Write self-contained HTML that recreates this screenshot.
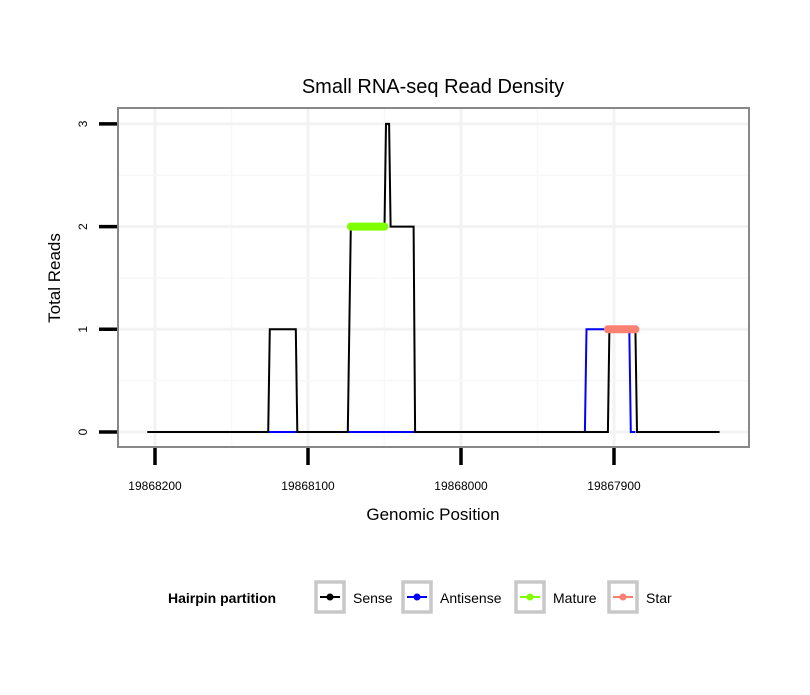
<!DOCTYPE html>
<html><head><meta charset="utf-8"><style>
body{margin:0;background:#fff;font-family:"Liberation Sans",sans-serif}
</style></head><body>
<svg id="c" width="810" height="690" xmlns="http://www.w3.org/2000/svg" font-family="Liberation Sans, sans-serif">
<rect width="810" height="690" fill="#fff"/>
<text x="433" y="93" font-size="20" text-anchor="middle">Small RNA-seq Read Density</text>
<g id="grid"></g>
<g id="series"></g>
<rect x="118" y="108" width="631" height="339" fill="none" stroke="#888" stroke-width="2"/>
<g id="axes"></g>
<text x="433" y="520" font-size="17" text-anchor="middle">Genomic Position</text>
<text transform="translate(60,278) rotate(-90)" font-size="17" text-anchor="middle">Total Reads</text>
<g id="legend"></g>
</svg>
<script>
const xTicks=[19868200,19868100,19868000,19867900];
const xTickLabels=["19868200","19868100","19868000","19867900"];
const yTicks=[0,1,2,3];
const senseX=[19868205,19868126,19868125,19868108,19868107,19868074,19868072,19868050,19868049,19868047,19868046,19868031,19868030,19867904,19867903,19867886,19867885,19867831];
const senseY=[0,0,1,1,0,0,2,2,3,3,2,2,0,0,1,1,0,0];
const antiX=[19868126,19868107,NaN,19868074,19868030,NaN,19867904,19867919,19867918,19867890,19867889,19867886];
const antiY=[0,0,NaN,0,0,NaN,0,0,1,1,0,0];
const matureX=[19868072,19868050];
const matureY=[2,2];
const starX=[19867904,19867886];
const starY=[1,1];
const legendLabels=["Sense","Antisense","Mature","Star"];
const legendColors=["#000","#0000ff","#7fff00","#fa8072"];
const NS="http://www.w3.org/2000/svg";
const sx=g=>155+(19868200-g)*1.53;
const sy=v=>432-v*102.7;
function mk(tag,attrs,parent){const e=document.createElementNS(NS,tag);for(const k in attrs)e.setAttribute(k,attrs[k]);parent.appendChild(e);return e;}
const grid=document.getElementById('grid'),ser=document.getElementById('series'),ax=document.getElementById('axes'),lg=document.getElementById('legend');
// grid
xTicks.forEach(t=>{const l=mk('line',{x1:sx(t),x2:sx(t),y1:108,y2:447,stroke:'#f3f3f3','stroke-width':3},grid);

});
for(let i=0;i<xTicks.length-1;i++){const m=(xTicks[i]+xTicks[i+1])/2;const l=mk('line',{x1:sx(m),x2:sx(m),y1:108,y2:447,stroke:'#f8f8f8','stroke-width':1.5},grid);

}
yTicks.forEach(t=>{const l=mk('line',{x1:118,x2:749,y1:sy(t),y2:sy(t),stroke:'#f3f3f3','stroke-width':3},grid);

});
for(let i=0;i<yTicks.length-1;i++){const m=(yTicks[i]+yTicks[i+1])/2;const l=mk('line',{x1:118,x2:749,y1:sy(m),y2:sy(m),stroke:'#f8f8f8','stroke-width':1.5},grid);

}
function path(xs,ys){let d='',pen=false;for(let i=0;i<xs.length;i++){if(isNaN(xs[i])){pen=false;continue;}d+=(pen?'L':'M')+sx(xs[i]).toFixed(1)+' '+sy(ys[i]).toFixed(1);pen=true;}return d;}
const pa=mk('path',{d:path(antiX,antiY),fill:'none',stroke:'#0000ff','stroke-width':2},ser);


const ps=mk('path',{d:path(senseX,senseY),fill:'none',stroke:'#000','stroke-width':2},ser);


const pm=mk('path',{d:path(matureX,matureY),fill:'none',stroke:'#7fff00','stroke-width':8,'stroke-linecap':'round'},ser);


const pst=mk('path',{d:path(starX,starY),fill:'none',stroke:'#fa8072','stroke-width':8,'stroke-linecap':'round'},ser);


// axes
xTicks.forEach((t,i)=>{const l=mk('line',{x1:sx(t),x2:sx(t),y1:448,y2:465,stroke:'#000','stroke-width':3.5},ax);


const tx=mk('text',{x:sx(t),y:490,'font-size':12,'text-anchor':'middle'},ax);tx.textContent=xTickLabels[i];

});
yTicks.forEach(t=>{const l=mk('line',{x1:99,x2:117,y1:sy(t),y2:sy(t),stroke:'#000','stroke-width':3.5},ax);


const tx=mk('text',{transform:`translate(87,${sy(t)}) rotate(-90)`,'font-size':12,'text-anchor':'middle'},ax);tx.textContent=String(t);

});
// legend
const lt=mk('text',{x:168,y:603,'font-size':14,'font-weight':'bold'},lg);lt.textContent='Hairpin partition';


const bx=[303,390,503,596];
legendLabels.forEach((lab,i)=>{const g=mk('g',{},lg);


mk('rect',{x:bx[i]+13,y:582,width:28,height:30,fill:'#fff',stroke:'#c8c8c8','stroke-width':3.5},g);
mk('line',{x1:bx[i]+17,x2:bx[i]+37,y1:597,y2:597,stroke:legendColors[i],'stroke-width':2},g);
mk('circle',{cx:bx[i]+27,cy:597,r:3.5,fill:legendColors[i]},g);
const tx=mk('text',{x:bx[i]+50,y:603,'font-size':14},g);tx.textContent=lab;});
</script>
</body></html>
